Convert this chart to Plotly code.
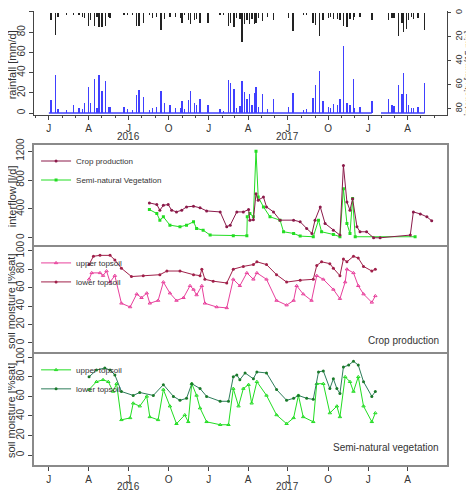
import plotly.graph_objects as go
import pandas as pd

base = pd.Timestamp("2016-01-01")


def to_date(days):
    return base + pd.to_timedelta(days, unit="D")


# daily rainfall (days since 2016-01-01) and intensity
rain_day = [5, 15, 21, 57, 69, 77, 82, 90, 95, 105, 115, 122, 129, 137, 172, 192, 200, 206, 217, 237, 247,
            257, 265, 277, 302, 305, 319, 324, 333, 338, 346, 364, 392, 411, 416, 424, 437, 442, 447, 453,
            459, 470, 474, 489, 514, 549, 559, 582, 604, 610, 619, 627, 645, 651, 666, 674, 682, 689, 697,
            712, 739, 777, 785, 800, 808, 811, 818, 823, 834, 859,
            40, 110, 140, 180, 230, 290, 310, 400, 430, 465, 480, 500, 590, 640, 660, 700, 790, 830, 845]
rain_mm = [13, 38, 4, 8, 5, 4, 10, 26, 10, 34, 38, 22, 32, 6, 6, 3, 18, 23, 16, 5, 6,
           22, 10, 8, 5, 12, 13, 22, 10, 8, 14, 8, 4, 33, 30, 24, 7, 32, 21, 14,
           19, 20, 26, 19, 14, 6, 20, 3, 15, 28, 42, 12, 5, 9, 14, 66, 10, 8, 34,
           6, 12, 14, 8, 28, 19, 40, 19, 8, 5, 30,
           3, 5, 6, 4, 3, 5, 4, 2, 5, 8, 6, 4, 4, 6, 8, 5, 7, 5, 6]
intensity = [6, 18, 3, 2, 2, 3, 4, 11, 6, 11, 12, 12, 11, 3, 2, 1, 11, 11, 8, 4, 3,
             14, 5, 3, 4, 8, 6, 9, 6, 5, 8, 8, 2, 11, 8, 12, 5, 24, 9, 6,
             9, 9, 8, 7, 6, 4, 15, 2, 8, 10, 19, 6, 3, 5, 6, 11, 12, 5, 6,
             3, 6, 6, 4, 19, 8, 16, 13, 6, 5, 14,
             2, 3, 4, 2, 2, 3, 2, 2, 4, 5, 4, 3, 2, 4, 5, 3, 4, 3, 4]
season_start = [48, 241, 412, 605, 781]
season_end = [151, 362, 515, 728, 859]

# interflow [l/d]
crop_if_day = [230, 247, 254, 262, 273, 281, 292, 304, 315, 331, 346, 361, 392, 407, 415, 430, 445, 457, 460,
               468, 474, 479, 491, 498, 514, 529, 560, 575, 590, 602, 609, 621, 632, 651, 666, 674, 682,
               689, 695, 705, 712, 727, 743, 758, 827, 834, 850, 865, 876]
crop_if = [483, 460, 382, 450, 460, 382, 358, 382, 428, 437, 415, 372, 358, 152, 175, 358, 358, 391, 244,
           250, 611, 520, 565, 428, 358, 244, 244, 221, 129, 60, 244, 428, 198, 106, 37, 1000, 497,
           382, 540, 152, 83, 83, 0, 0, 37, 358, 330, 290, 235]
semi_if_day = [230, 247, 254, 262, 277, 300, 315, 331, 338, 353, 369, 422, 453, 454, 460, 468, 474, 479,
               491, 506, 529, 537, 560, 575, 605, 617, 624, 651, 666, 674, 682, 689, 695, 701, 838]
semi_if = [391, 336, 244, 290, 175, 152, 175, 221, 129, 106, 37, 28, 28, 290, 336, 290, 1200, 565,
           428, 290, 244, 83, 60, 23, 14, 244, 83, 46, 14, 680, 198, 60, 543, 14, 14]

# soil moisture, crop production
crop_low_day = [92, 102, 117, 140, 151, 166, 189, 216, 254, 270, 300, 331, 346, 350, 357, 376, 407, 422,
                445, 468, 476, 498, 521, 544, 575, 605, 613, 624, 643, 651, 666, 674, 682, 697, 708, 720,
                739, 747]
crop_low = [85, 94, 95, 95, 90, 81, 72, 73, 74, 78, 78, 74, 73, 80, 69, 67, 65, 80,
            83, 85, 88, 85, 74, 66, 68, 69, 84, 88, 86, 81, 73, 91, 88, 94, 92, 83,
            78, 80]
crop_up_day = [92, 98, 117, 124, 132, 140, 151, 166, 186, 201, 212, 224, 231, 250, 262, 277, 292, 308,
               323, 331, 338, 350, 357, 384, 407, 422, 437, 453, 468, 476, 498, 521, 544, 560, 567,
               582, 601, 613, 628, 651, 666, 678, 682, 697, 708, 720, 739, 747]
crop_up = [69, 76, 76, 73, 78, 66, 73, 43, 39, 53, 49, 54, 43, 46, 66, 54, 46, 49,
           62, 58, 52, 62, 43, 39, 38, 69, 62, 76, 69, 76, 69, 46, 41, 46, 62,
           53, 46, 73, 69, 58, 48, 66, 80, 76, 62, 53, 44, 51]

# soil moisture, semi-natural vegetation
semi_low_day = [92, 109, 128, 140, 151, 166, 193, 208, 239, 262, 285, 300, 315, 327, 346, 361, 392, 411,
                422, 430, 437, 449, 468, 476, 498, 521, 544, 560, 571, 590, 605, 617, 628, 643, 651,
                659, 666, 674, 686, 697, 708, 720, 739, 747]
semi_low = [80, 87, 89, 87, 82, 65, 61, 64, 61, 72, 60, 56, 58, 73, 68, 60, 55, 55,
            80, 82, 77, 84, 78, 85, 84, 67, 56, 58, 61, 58, 57, 85, 86, 68, 78,
            68, 63, 90, 92, 96, 92, 75, 60, 65]
semi_up_day = [92, 109, 124, 136, 147, 155, 166, 186, 193, 208, 224, 231, 250, 262, 277, 292, 311, 319,
               327, 338, 346, 361, 392, 411, 422, 434, 445, 457, 464, 476, 498, 521, 544, 560, 571,
               582, 605, 613, 628, 643, 659, 666, 678, 689, 697, 708, 720, 739, 747]
semi_up = [67, 75, 77, 75, 65, 73, 36, 38, 53, 50, 60, 39, 36, 67, 50, 32, 41, 34,
           73, 61, 48, 34, 31, 31, 68, 50, 68, 72, 53, 75, 61, 41, 32, 38, 61,
           39, 34, 73, 73, 43, 50, 39, 80, 75, 65, 80, 50, 34, 43]

tick_dates = pd.date_range("2016-01-01", "2018-04-01", freq="QS")
tick_text = ["J", "A", "J", "O", "J", "A", "J", "O", "J", "A"]
years = ["2016", "2017"]
year_pos = ["2016-07-01", "2017-07-01"]

font = "Liberation Sans"
frame = "#8a8a8a"
crop_col, semi_col = "#8b1a4a", "#22dd22"
up_pink, low_teal = "#e8409c", "#2e7d5b"

fig = go.Figure()

# rainfall panel
fig.add_trace(go.Scatter(x=to_date([0, 739]), y=[0, 0], mode="lines", line=dict(color="#4040ff", width=1.5),
                         xaxis="x", yaxis="y", showlegend=False))
fig.add_trace(go.Scatter(x=to_date([760, 860]), y=[0, 0], mode="lines", line=dict(color="#4040ff", width=1.5),
                         xaxis="x", yaxis="y", showlegend=False))
fig.add_trace(go.Bar(x=to_date(rain_day), y=rain_mm, marker=dict(color="#4040ff", line_width=0),
                     width=86400000 * 0.9, xaxis="x", yaxis="y", showlegend=False))
fig.add_trace(go.Bar(x=to_date(rain_day), y=intensity, marker=dict(color="#222222", line_width=0),
                     width=86400000 * 0.9, xaxis="x", yaxis="y5", showlegend=False))
for s, e in zip(season_start, season_end):
    fig.add_trace(go.Scatter(x=to_date([s, e]), y=[-2.6, -2.6], mode="lines",
                             line=dict(color="#c8c8c8", width=1.5), xaxis="x", yaxis="y5", showlegend=False))

# interflow panel
fig.add_trace(go.Scatter(x=to_date(semi_if_day), y=semi_if, mode="lines+markers", name="Semi-natural Vegetation",
                         line=dict(color=semi_col, width=1), marker=dict(symbol="square", size=3),
                         xaxis="x2", yaxis="y2", legend="legend"))
fig.add_trace(go.Scatter(x=to_date(crop_if_day), y=crop_if, mode="lines+markers", name="Crop production",
                         line=dict(color=crop_col, width=1), marker=dict(size=3),
                         xaxis="x2", yaxis="y2", legend="legend"))

# crop soil moisture
fig.add_trace(go.Scatter(x=to_date(crop_up_day), y=crop_up, mode="lines+markers", name="upper topsoil",
                         line=dict(color=up_pink, width=1), marker=dict(symbol="triangle-up-open", size=3),
                         xaxis="x3", yaxis="y3", legend="legend2"))
fig.add_trace(go.Scatter(x=to_date(crop_low_day), y=crop_low, mode="lines+markers", name="lower topsoil",
                         line=dict(color="#a0204a", width=1), marker=dict(size=3),
                         xaxis="x3", yaxis="y3", legend="legend2"))

# semi-natural soil moisture
fig.add_trace(go.Scatter(x=to_date(semi_up_day), y=semi_up, mode="lines+markers", name="upper topsoil",
                         line=dict(color=semi_col, width=1), marker=dict(symbol="triangle-up-open", size=3),
                         xaxis="x4", yaxis="y4", legend="legend3"))
fig.add_trace(go.Scatter(x=to_date(semi_low_day), y=semi_low, mode="lines+markers", name="lower topsoil",
                         line=dict(color=low_teal, width=1), marker=dict(size=3, color="#1a7a2a"),
                         xaxis="x4", yaxis="y4", legend="legend3"))

xr = [to_date(-34), to_date(911)]
tickf = dict(family=font, size=10, color="#333")
xbase = dict(range=xr, type="date", tickvals=tick_dates, ticktext=tick_text, tickfont=tickf, automargin=False,
             ticks="outside", ticklen=4, showgrid=False, zeroline=False)
framed = dict(showline=True, mirror=True, linecolor=frame, linewidth=1.5)
ybase = dict(showgrid=False, zeroline=False, tickfont=tickf, tickangle=-90, ticks="outside", ticklen=4,
             showline=True, linecolor="#444", linewidth=1, automargin=False)

leg = dict(x=0.005, xanchor="left", yanchor="top", bgcolor="rgba(0,0,0,0)",
           font=dict(family=font, size=8, color="#333"), itemwidth=30, tracegroupgap=0)


def ytitle(text, x, y, size=11):
    return dict(text=text, xref="paper", yref="paper", x=x, y=y, textangle=-90, showarrow=False,
                xanchor="center", yanchor="middle", font=dict(family=font, size=size, color="#333"))


annotations = [
    ytitle("rainfall [mm/d]", -0.054, 0.88),
    ytitle("intensity [mm/15 min]", 1.051, 0.86, size=9),
    ytitle("interflow [l/d]", -0.054, 0.59),
    ytitle("soil moisture [%sat]", -0.054, 0.36),
    ytitle("soil moisture [%sat]", -0.054, 0.12),
    dict(text="Crop production", xref="paper", yref="paper", x=0.985, y=0.258, xanchor="right",
         yanchor="bottom", showarrow=False, font=dict(size=10, color="#333")),
    dict(text="Semi-natural vegetation", xref="paper", yref="paper", x=0.985, y=0.022, xanchor="right",
         yanchor="bottom", showarrow=False, font=dict(size=10, color="#333")),
]
for yr, pos in zip(years, year_pos):
    for yp in (0.722, -0.047):
        annotations.append(dict(text=yr, xref="x", yref="paper", x=pos, y=yp, showarrow=False,
                                yanchor="middle", font=dict(family=font, size=10, color="#333")))

fig.update_layout(
    width=466, height=482, margin=dict(l=26, r=27, t=2, b=25),
    plot_bgcolor="white", paper_bgcolor="white", bargap=0,
    font=dict(family=font, size=10, color="#333"),
    xaxis=dict(xbase, domain=[0, 1], anchor="y", showline=True, linecolor="#444",
               minor=dict(ticks="outside", ticklen=2, dtick="M1", tick0="2016-01-01")),
    yaxis=dict(ybase, domain=[0.769, 0.998], range=[-2, 101], tickvals=[0, 20, 40, 60, 80, 100]),
    yaxis5=dict(ybase, overlaying="y", side="right", anchor="x", range=[85.5, -1.7],
                tickvals=[0, 20, 40, 60, 80], autorange=False, ticklen=3,
                tickfont=dict(family=font, size=9, color="#333")),
    xaxis2=dict(xbase, anchor="y2", domain=[0, 1], showticklabels=False, ticks="", **framed),
    yaxis2=dict(ybase, domain=[0.484, 0.703], range=[-97, 1283], tickvals=[0, 400, 800, 1200], mirror=True),
    xaxis3=dict(xbase, anchor="y3", domain=[0, 1], showticklabels=False, ticks="", **framed),
    yaxis3=dict(ybase, domain=[0.248, 0.479], range=[-10, 104], tickvals=[0, 20, 40, 60, 80, 100], mirror=True),
    xaxis4=dict(xbase, anchor="y4", domain=[0, 1], **framed),
    yaxis4=dict(ybase, domain=[0, 0.244], range=[-10.2, 103.4], tickvals=[0, 20, 40, 60, 80, 100], mirror=True),
    legend=dict(leg, y=0.70, traceorder="reversed"),
    legend2=dict(leg, y=0.476),
    legend3=dict(leg, y=0.241),
    annotations=annotations,
)
for ax in ("yaxis2", "yaxis3", "yaxis4"):
    fig.layout[ax].linecolor = frame
    fig.layout[ax].linewidth = 1.5

fig.write_html("out.html")
